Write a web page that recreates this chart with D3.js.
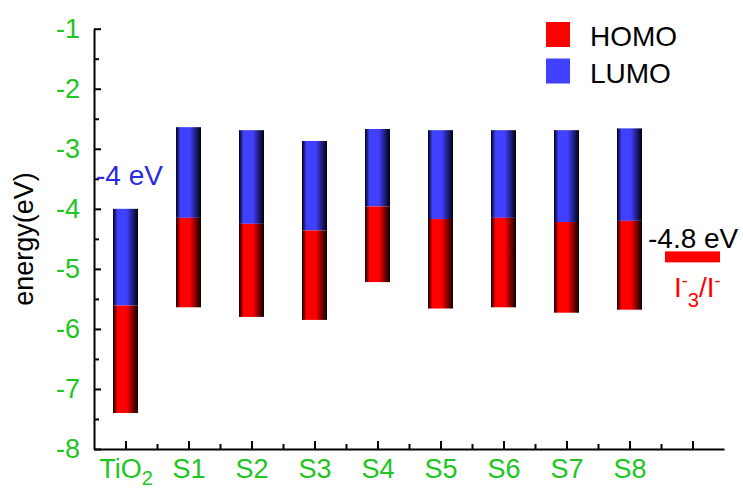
<!DOCTYPE html>
<html>
<head>
<meta charset="utf-8">
<script src="https://cdn.jsdelivr.net/npm/d3@7"></script>
<style>
  html, body { margin: 0; padding: 0; background: #fff; }
  svg { display: block; font-family: "Liberation Sans", Arial, Helvetica, sans-serif; }
</style>
</head>
<body>
<svg id="chart" width="743" height="497"></svg>
<script>
// Energy levels (eV) for TiO2 and the sensitizers S1–S8
const categories = ["TiO2", "S1", "S2", "S3", "S4", "S5", "S6", "S7", "S8"];
const lumo  = [-4.00, -2.64, -2.69, -2.87, -2.67, -2.69, -2.69, -2.69, -2.66];
const split = [-5.61, -4.15, -4.25, -4.36, -3.96, -4.17, -4.15, -4.22, -4.20];
const homo  = [-7.40, -5.64, -5.80, -5.85, -5.22, -5.66, -5.64, -5.73, -5.68];
const redoxLevel = -4.8;                 // I3-/I- electrolyte
const yMajorTicks = [-8, -7, -6, -5, -4, -3, -2, -1];
const yMinorTicks = [-7.5, -6.5, -5.5, -4.5, -3.5, -2.5, -1.5];
const legendItems = ["HOMO", "LUMO"];

const GREEN = "#22c422";
const RED = "#ff0000";
const BLUE = "#4040ff";

const svg = d3.select("#chart");

const x = d3.scaleLinear().domain([0.5, 10.5]).range([94, 724]);
const y = d3.scaleLinear().domain([-8, -1]).range([449, 28.7]);

// Horizontal shading gives the bars a rounded, tube-like look
const defs = svg.append("defs");
function tubeGradient(id, color, dark) {
  const g = defs.append("linearGradient").attr("id", id)
    .attr("x1", "0%").attr("x2", "100%").attr("y1", "0%").attr("y2", "0%");
  [[0, dark], [0.18, color], [0.55, color], [1, dark]].forEach(([o, c]) =>
    g.append("stop").attr("offset", o).attr("stop-color", c));
}
tubeGradient("gradRed", RED, "#0d0000");
tubeGradient("gradBlue", BLUE, "#00000d");

const barW = 25;
const rows = categories.map((c, i) => ({ c, i: i + 1, lumo: lumo[i], split: split[i], homo: homo[i] }));

const bars = svg.append("g");
// LUMO part (upper, blue)
bars.selectAll("rect.lumo").data(rows).join("rect")
  .attr("class", "lumo")
  .attr("x", d => x(d.i) - barW / 2)
  .attr("width", barW)
  .attr("y", d => y(d.lumo))
  .attr("height", d => y(d.split) - y(d.lumo))
  .attr("fill", "url(#gradBlue)");
// HOMO part (lower, red)
bars.selectAll("rect.homo").data(rows).join("rect")
  .attr("class", "homo")
  .attr("x", d => x(d.i) - barW / 2)
  .attr("width", barW)
  .attr("y", d => y(d.split))
  .attr("height", d => y(d.homo) - y(d.split))
  .attr("fill", "url(#gradRed)");

// Redox level of the electrolyte
svg.append("rect")
  .attr("x", x(10) - 27.5)
  .attr("width", 55)
  .attr("y", y(redoxLevel) - 5.5)
  .attr("height", 11)
  .attr("fill", RED);

// Axes
const fontSize = 27;
const yAxis = svg.append("g").attr("transform", `translate(${x(0.5)},0)`)
  .call(d3.axisLeft(y).tickValues(yMajorTicks).tickSize(-7).tickSizeOuter(0).tickPadding(14).tickFormat(d => String(d)));
svg.append("g").attr("transform", `translate(${x(0.5)},0)`)
  .call(d3.axisLeft(y).tickValues(yMinorTicks).tickSize(-5).tickSizeOuter(0).tickFormat(""))
  .call(g => g.select(".domain").remove());

const xAxis = svg.append("g").attr("transform", `translate(0,${y(-8)})`)
  .call(d3.axisBottom(x).tickValues(d3.range(1, 11)).tickSize(-8).tickSizeOuter(0).tickPadding(10)
    .tickFormat(d => d <= categories.length ? categories[d - 1] : ""));
svg.append("g").attr("transform", `translate(0,${y(-8)})`)
  .call(d3.axisBottom(x).tickValues(d3.range(1.5, 10, 1)).tickSize(-5).tickSizeOuter(0).tickFormat(""))
  .call(g => g.select(".domain").remove());

svg.selectAll(".domain, .tick line").attr("stroke", "#000").attr("stroke-width", 2);
[yAxis, xAxis].forEach(a => a.selectAll(".tick text")
  .attr("font-size", fontSize).attr("fill", GREEN).attr("font-family", null));

// Subscript for TiO2
xAxis.selectAll(".tick text").filter(d => d === 1).each(function () {
  const t = d3.select(this).text("");
  t.append("tspan").text("TiO");
  t.append("tspan").attr("dy", "0.32em").attr("font-size", 20).text("2");
});

// Y axis title
svg.append("text")
  .attr("transform", "translate(33,239) rotate(-90)")
  .attr("text-anchor", "middle")
  .attr("font-size", 27)
  .attr("fill", "#000")
  .text("energy(eV)");

// Legend
const legend = svg.append("g");
legendItems.forEach((name, k) => {
  legend.append("rect").attr("x", 546).attr("y", 22 + k * 36.5).attr("width", 24).attr("height", 25)
    .attr("fill", name === "HOMO" ? RED : BLUE);
  legend.append("text").attr("x", 590).attr("y", 46 + k * 36.5).attr("font-size", 28).attr("fill", "#000").text(name);
});

// Annotations
svg.append("text").attr("x", 96).attr("y", 185).attr("font-size", 28).attr("fill", "#2a2ae0").text("-4 eV");
svg.append("text").attr("x", 648).attr("y", 248).attr("font-size", 28).attr("fill", "#000").text(redoxLevel + " eV");

const redoxLabel = svg.append("text").attr("x", 674).attr("y", 297).attr("font-size", 28).attr("fill", RED);
redoxLabel.append("tspan").text("I");
redoxLabel.append("tspan").attr("dy", -10).attr("font-size", 18).text("-");
redoxLabel.append("tspan").attr("dy", 20).attr("font-size", 20).text("3");
redoxLabel.append("tspan").attr("dy", -10).text("/I");
redoxLabel.append("tspan").attr("dy", -10).attr("font-size", 18).text("-");
</script>
</body>
</html>
